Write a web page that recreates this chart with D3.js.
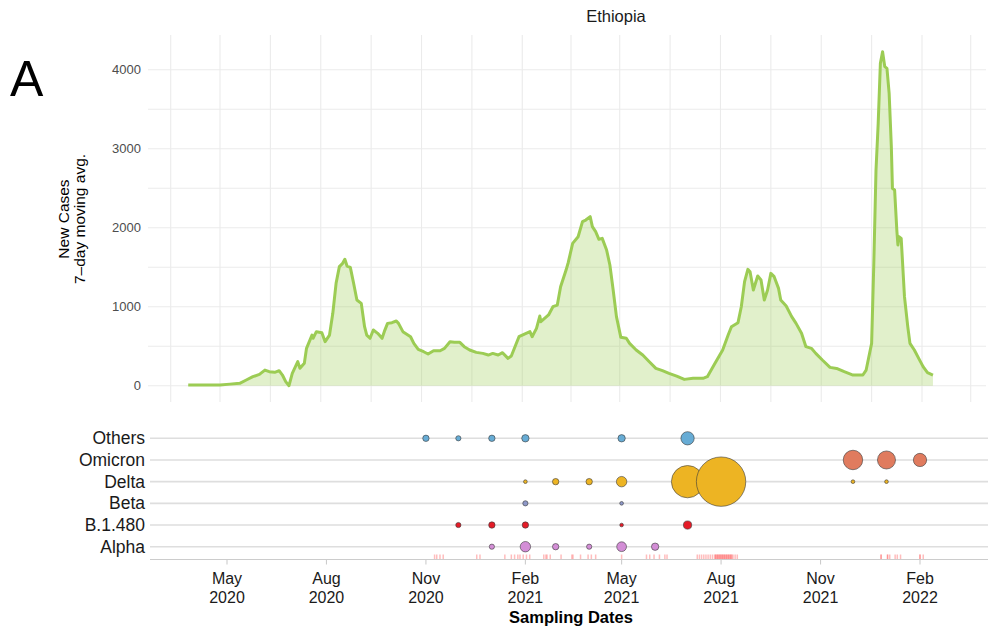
<!DOCTYPE html>
<html>
<head>
<meta charset="utf-8">
<script src="https://cdn.jsdelivr.net/npm/d3@7"></script>
<style>
  body { margin: 0; background: #fff; }
  text { font-family: "Liberation Sans", Arial, Helvetica, sans-serif; }
</style>
</head>
<body>
<svg id="chart" width="988" height="628"></svg>
<script>
// daily new cases, 7-day moving average
const caseDates = [
  "2020-04-02","2020-05-01","2020-05-10","2020-05-19","2020-05-25","2020-05-31","2020-06-06","2020-06-11",
  "2020-06-15","2020-06-20","2020-06-24","2020-06-27","2020-06-30","2020-07-03","2020-07-06","2020-07-11",
  "2020-07-13","2020-07-17","2020-07-19","2020-07-24","2020-07-25","2020-07-28","2020-08-02","2020-08-05",
  "2020-08-09","2020-08-12","2020-08-15","2020-08-18","2020-08-21","2020-08-23","2020-08-25","2020-08-28",
  "2020-08-31","2020-09-03","2020-09-07","2020-09-10","2020-09-12","2020-09-15","2020-09-18","2020-09-22",
  "2020-09-26","2020-09-28","2020-10-01","2020-10-05","2020-10-09","2020-10-11","2020-10-15","2020-10-22",
  "2020-10-25","2020-10-29","2020-11-03","2020-11-07","2020-11-12","2020-11-18","2020-11-22","2020-11-27",
  "2020-12-01","2020-12-06","2020-12-10","2020-12-15","2020-12-21","2020-12-27","2021-01-01","2021-01-05",
  "2021-01-10","2021-01-14","2021-01-19","2021-01-22","2021-01-26","2021-01-29","2021-02-03","2021-02-08",
  "2021-02-10","2021-02-14","2021-02-17","2021-02-18","2021-02-25","2021-03-01","2021-03-05","2021-03-08",
  "2021-03-13","2021-03-15","2021-03-19","2021-03-24","2021-03-28","2021-03-31","2021-04-04","2021-04-06",
  "2021-04-09","2021-04-12","2021-04-15","2021-04-19","2021-04-22","2021-04-25","2021-04-28","2021-05-02",
  "2021-05-07","2021-05-10","2021-05-16","2021-05-22","2021-05-28","2021-06-03","2021-06-09","2021-06-15",
  "2021-06-22","2021-06-29","2021-07-07","2021-07-16","2021-07-20","2021-07-27","2021-08-03","2021-08-08",
  "2021-08-11","2021-08-17","2021-08-20","2021-08-23","2021-08-26","2021-08-28","2021-08-31","2021-09-04",
  "2021-09-07","2021-09-10","2021-09-13","2021-09-16","2021-09-19","2021-09-23","2021-09-25","2021-09-30",
  "2021-10-05","2021-10-09","2021-10-14","2021-10-18","2021-10-23","2021-10-27","2021-11-02","2021-11-09",
  "2021-11-15","2021-11-22","2021-11-30","2021-12-09","2021-12-12","2021-12-17","2021-12-19","2021-12-21",
  "2021-12-23","2021-12-25","2021-12-27","2021-12-29","2021-12-31","2022-01-02","2022-01-04","2022-01-05",
  "2022-01-07","2022-01-09","2022-01-10","2022-01-11","2022-01-13","2022-01-16","2022-01-19","2022-01-21",
  "2022-01-25","2022-01-29","2022-02-02","2022-02-06","2022-02-11"
];
const caseValues = [
  8, 8, 20, 30, 72, 114, 143, 198,
  177, 169, 190, 135, 51, 0, 156, 304,
  220, 283, 473, 641, 600, 684, 671, 557,
  641, 916, 1296, 1507, 1549, 1600, 1515, 1498,
  1296, 1085, 1042, 747, 641, 600, 705, 663,
  600, 684, 789, 798, 819, 789, 684, 620,
  536, 460, 430, 401, 443, 443, 473, 557,
  549, 549, 494, 452, 422, 409, 388, 409,
  388, 418, 346, 376, 515, 620, 654, 684,
  620, 726, 882, 810, 895, 1000, 1021, 1253,
  1464, 1560, 1802, 1886, 2076, 2097, 2140, 2013,
  1950, 1853, 1865, 1718, 1528, 1211, 874, 612,
  600, 536, 452, 388, 304, 220, 190, 156,
  122, 80, 93, 93, 114, 283, 452, 641,
  747, 798, 1000, 1317, 1473, 1443, 1211, 1389,
  1338, 1085, 1211, 1422, 1380, 1232, 1085, 1009,
  874, 789, 663, 494, 473, 409, 325, 232,
  219, 177, 135, 135, 198, 536, 1549, 2730,
  3321, 4081, 4228, 4039, 4017, 3701, 3026, 2498,
  2477, 1971, 1781, 1886, 1865, 1127, 747, 536,
  452, 346, 241, 165, 135
];

// sequenced genomes per variant and month
const variants = ["Others", "Omicron", "Delta", "Beta", "B.1.480", "Alpha"];
const seqMonths = ["2020-11-01","2020-12-01","2021-01-01","2021-02-01","2021-03-01","2021-04-01","2021-05-01","2021-06-01",
                   "2021-07-01","2021-08-01","2021-09-01","2021-10-01","2021-11-01","2021-12-01","2022-01-01","2022-02-01"];
const othersCounts  = [3, 2, 3, 4, 0, 0, 4, 0, 13, 0, 0, 0, 0, 0, 0, 0];
const omicronCounts = [0, 0, 0, 0, 0, 0, 0, 0, 0, 0, 0, 0, 0, 28, 24, 13];
const deltaCounts   = [0, 0, 0, 1, 3, 3, 8, 0, 77, 180, 0, 0, 0, 1, 1, 0];
const betaCounts    = [0, 0, 0, 2, 0, 0, 1, 0, 0, 0, 0, 0, 0, 0, 0, 0];
const b1480Counts   = [0, 2, 3, 3, 0, 0, 1, 0, 5, 0, 0, 0, 0, 0, 0, 0];
const alphaCounts   = [0, 0, 2, 8, 3, 2, 7, 4, 0, 0, 0, 0, 0, 0, 0, 0];

// sampling dates (rug)
const samplingDates = [
  "2020-11-09","2020-11-11","2020-11-14","2020-11-17","2020-12-18","2020-12-21",
  "2021-01-13","2021-01-19","2021-01-22","2021-01-25","2021-01-27","2021-01-30","2021-02-02","2021-02-05",
  "2021-02-18","2021-02-20","2021-02-21","2021-02-24","2021-03-06","2021-03-16","2021-03-17","2021-03-24",
  "2021-03-31","2021-04-03","2021-04-07","2021-05-01","2021-05-24","2021-05-27","2021-05-31","2021-06-05",
  "2021-06-10","2021-06-12",
  "2021-07-10","2021-07-12","2021-07-14","2021-07-16","2021-07-18","2021-07-20","2021-07-22","2021-07-24",
  "2021-07-26","2021-07-27","2021-07-27","2021-07-28","2021-07-29","2021-07-29","2021-07-30","2021-07-31",
  "2021-07-31","2021-08-01","2021-08-02","2021-08-02","2021-08-03","2021-08-04","2021-08-04","2021-08-05",
  "2021-08-06","2021-08-06","2021-08-07","2021-08-08","2021-08-08","2021-08-09","2021-08-10","2021-08-10",
  "2021-08-11","2021-08-12","2021-08-14","2021-08-16",
  "2021-12-27","2021-12-27","2022-01-02","2022-01-02","2022-01-04","2022-01-09","2022-01-11","2022-01-14",
  "2022-02-01","2022-02-01","2022-02-04"
];
const monthTickLabels = ["May\n2020","Aug\n2020","Nov\n2020","Feb\n2021","May\n2021","Aug\n2021","Nov\n2021","Feb\n2022"];

const parse = d3.utcParse("%Y-%m-%d");
const svg = d3.select("#chart");

// ---------- top panel: cases ----------
const xTop = d3.scaleUtc()
  .domain([parse("2020-05-01"), parse("2022-02-01")])
  .range([220, 922]);
const yTop = d3.scaleLinear().domain([0, 4000]).range([385.7, 69.7]);
const topL = 148, topR = 986, topT = 35, topB = 402;

const gridTop = svg.append("g");
const majorX = d3.utcMonths(parse("2020-05-01"), parse("2022-02-02"), 3);
const minorX = [];
const allQ = d3.utcMonths(parse("2020-02-01"), parse("2022-05-02"), 3);
for (let i = 0; i < allQ.length - 1; i++) {
  const mid = new Date((allQ[i].getTime() + allQ[i + 1].getTime()) / 2);
  const px = xTop(mid);
  if (px > topL && px < topR) minorX.push(mid);
}
gridTop.selectAll(".vx").data(majorX.concat(minorX)).enter().append("line")
  .attr("x1", d => xTop(d)).attr("x2", d => xTop(d))
  .attr("y1", topT).attr("y2", topB)
  .attr("stroke", "#ebebeb").attr("stroke-width", 1.1);
gridTop.selectAll(".hy").data(d3.range(0, 4001, 500)).enter().append("line")
  .attr("x1", topL).attr("x2", topR)
  .attr("y1", d => yTop(d)).attr("y2", d => yTop(d))
  .attr("stroke", "#ebebeb").attr("stroke-width", 1.1);

svg.append("g").selectAll("text").data(d3.range(0, 4001, 1000)).enter().append("text")
  .attr("x", 141).attr("y", d => yTop(d) + 4.5)
  .attr("text-anchor", "end")
  .attr("font-size", 13).attr("fill", "#4d4d4d")
  .text(d => d);

const cases = caseDates.map((d, i) => ({ date: parse(d), value: caseValues[i] }));
svg.append("path").datum(cases)
  .attr("fill", "#9ccc54").attr("fill-opacity", 0.3)
  .attr("d", d3.area().x(d => xTop(d.date)).y0(yTop(0)).y1(d => yTop(d.value)));
svg.append("path").datum(cases)
  .attr("fill", "none").attr("stroke", "#9ccc54").attr("stroke-width", 3)
  .attr("stroke-linejoin", "round")
  .attr("d", d3.line().x(d => xTop(d.date)).y(d => yTop(d.value)));

svg.append("text").attr("x", 616).attr("y", 22).attr("text-anchor", "middle")
  .attr("font-size", 16.5).attr("fill", "#1a1a1a").text("Ethiopia");
svg.append("text").attr("x", 10).attr("y", 96)
  .attr("font-size", 50).attr("fill", "#000").text("A");
svg.append("text").attr("transform", "translate(69,219) rotate(-90)")
  .attr("text-anchor", "middle").attr("font-size", 15.5).attr("fill", "#000").text("New Cases");
svg.append("text").attr("transform", "translate(85,219) rotate(-90)")
  .attr("text-anchor", "middle").attr("font-size", 15.5).attr("fill", "#000").text("7\u2013day moving avg.");

// ---------- bottom panel: variants ----------
const xBot = d3.scaleUtc()
  .domain([parse("2020-05-01"), parse("2022-02-01")])
  .range([227, 920]);
const yBot = d3.scalePoint().domain(variants).range([438.3, 546.7]);
const rScale = d3.scaleSqrt().domain([0, 180]).range([0, 24.7]);
const colors = {
  "Others": "#67acd5", "Omicron": "#e07b5e", "Delta": "#edb423",
  "Beta": "#8d97c7", "B.1.480": "#e41b27", "Alpha": "#d38ed6"
};
const countsByVariant = {
  "Others": othersCounts, "Omicron": omicronCounts, "Delta": deltaCounts,
  "Beta": betaCounts, "B.1.480": b1480Counts, "Alpha": alphaCounts
};

svg.append("g").selectAll("line").data(variants).enter().append("line")
  .attr("x1", 150).attr("x2", 988)
  .attr("y1", d => yBot(d)).attr("y2", d => yBot(d))
  .attr("stroke", "#dedede").attr("stroke-width", 1.6);
svg.append("g").selectAll("text").data(variants).enter().append("text")
  .attr("x", 145).attr("y", d => yBot(d) + 6)
  .attr("text-anchor", "end").attr("font-size", 17.5).attr("fill", "#1a1a1a")
  .text(d => d);

const bubbles = [];
variants.forEach(v => {
  countsByVariant[v].forEach((n, i) => {
    if (n > 0) bubbles.push({ variant: v, date: parse(seqMonths[i]), n: n });
  });
});
bubbles.sort((a, b) => a.date - b.date);
svg.append("g").selectAll("circle").data(bubbles).enter().append("circle")
  .attr("cx", d => xBot(d.date)).attr("cy", d => yBot(d.variant))
  .attr("r", d => rScale(d.n))
  .attr("fill", d => colors[d.variant])
  .attr("stroke", "#3a3a3a").attr("stroke-width", 0.6);

// rug of sampling dates
svg.append("g").selectAll("line").data(samplingDates).enter().append("line")
  .attr("x1", d => xBot(parse(d))).attr("x2", d => xBot(parse(d)))
  .attr("y1", 554.5).attr("y2", 559)
  .attr("stroke", "#ff5a5a").attr("stroke-opacity", 0.4).attr("stroke-width", 1.5);

// x axis
svg.append("line").attr("x1", 150).attr("x2", 988).attr("y1", 559.5).attr("y2", 559.5)
  .attr("stroke", "#cccccc").attr("stroke-width", 1.1);
const tickDates = d3.utcMonths(parse("2020-05-01"), parse("2022-02-02"), 3);
const xTicks = svg.append("g").selectAll("g").data(tickDates).enter().append("g")
  .attr("transform", d => `translate(${xBot(d)},0)`);
xTicks.append("line").attr("y1", 559.5).attr("y2", 564.5)
  .attr("stroke", "#cccccc").attr("stroke-width", 1.1);
xTicks.each(function (d, i) {
  const lines = monthTickLabels[i].split("\n");
  const t = d3.select(this).append("text").attr("text-anchor", "middle")
    .attr("font-size", 16).attr("fill", "#1a1a1a");
  t.append("tspan").attr("x", 0).attr("y", 584).text(lines[0]);
  t.append("tspan").attr("x", 0).attr("y", 603).text(lines[1]);
});
svg.append("text").attr("x", 571).attr("y", 623).attr("text-anchor", "middle")
  .attr("font-size", 16.5).attr("font-weight", "bold").attr("fill", "#000")
  .text("Sampling Dates");
</script>
</body>
</html>
